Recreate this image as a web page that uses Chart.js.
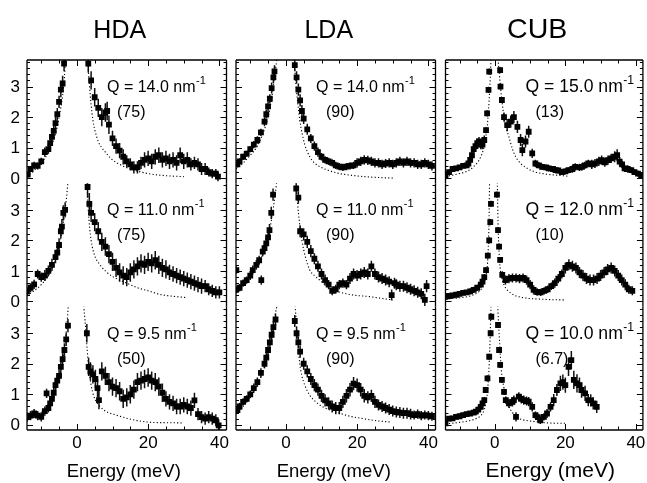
<!DOCTYPE html>
<html>
<head>
<meta charset="utf-8">
<script src="https://cdn.jsdelivr.net/npm/chart.js@4.4.0/dist/chart.umd.min.js"></script>
<style>
  html, body { margin: 0; padding: 0; background: #fff; }
  #fig { position: relative; width: 647px; height: 483px; overflow: hidden; }
  #fig canvas { position: absolute; left: 0; top: 0; }
</style>
</head>
<body>
<div id="fig"></div>
<script>
// ---- data (energy in meV, intensity in arb. units) ----

// HDA, Q = 14.0
const hdaTopE = [-13.8,-13,-12,-11,-10,-9,-8,-7.5,-7,-6.5,-6,-5.5,-5,-4.5,-4,-3.6,
  3.2,4,5,6,7,8,8.5,9,10,11,12,13,14,15,16,17,18,19,20,21,22,23,24,25,26,27,28,29,30,31,32,33,34,35,36,37,38,39,39.6];
const hdaTopI = [0.12,0.3,0.42,0.4,0.55,0.85,0.95,1.15,1.35,1.55,1.8,2.1,2.5,2.9,3.1,3.75,
  3.75,3.2,2.65,2.3,2.0,2.15,2.2,1.75,1.3,1.05,0.9,0.7,0.55,0.45,0.35,0.35,0.5,0.6,0.65,0.55,0.7,0.75,0.6,0.65,0.55,0.6,0.5,0.75,0.55,0.6,0.45,0.5,0.45,0.3,0.3,0.2,0.15,0.15,0.05];
const hdaTopErr = [0.1,0.1,0.12,0.12,0.12,0.15,0.15,0.15,0.15,0.18,0.2,0.2,0.2,0.25,0.25,0.25,
  0.3,0.3,0.3,0.3,0.3,0.3,0.3,0.3,0.25,0.25,0.25,0.25,0.2,0.2,0.2,0.2,0.2,0.25,0.25,0.25,0.25,0.25,0.25,0.25,0.25,0.25,0.25,0.25,0.25,0.25,0.2,0.2,0.2,0.2,0.2,0.15,0.15,0.15,0.15];
const hdaTopFitE = [-14,-12,-10,-8,-6,-5,-4,-3.5,-3.2,0,3,3.5,4,4.5,5,6,7,8,10,12,15,20,25,30];
const hdaTopFitI = [0.05,0.25,0.5,0.85,1.45,2.0,2.7,3.3,3.9,null,3.9,3.1,2.4,1.9,1.6,1.2,1.0,0.85,0.6,0.45,0.3,0.15,0.08,0.05];

// HDA, Q = 11.0
const hdaMidE = [-14,-13,-12,-11,-10,-9,-8,-7,-6,-5.5,-5,-4.5,-4.2,-3.8,-3.3,
  3,3.5,4,5,6,7,8,9,10,11,12,13,14,15,16,17,18,19,20,21,22,23,24,25,26,27,28,29,30,31,32,33,34,35,36,37,38,39,40];
const hdaMidI = [0.32,0.45,0.56,0.9,0.8,0.85,1.0,1.2,1.45,1.6,1.85,2.3,2.45,2.9,3.0,
  3.75,3.2,2.9,2.6,2.3,1.95,1.8,1.55,1.3,1.1,0.95,0.85,0.8,0.95,1.05,1.15,1.25,1.2,1.3,1.25,1.35,1.2,1.1,1.05,0.95,0.9,0.85,0.8,0.75,0.7,0.65,0.6,0.55,0.5,0.5,0.4,0.35,0.3,0.3];
const hdaMidErr = [0.15,0.15,0.15,0.15,0.15,0.18,0.18,0.2,0.2,0.2,0.22,0.22,0.25,0.25,0.25,
  0.35,0.35,0.3,0.3,0.3,0.3,0.3,0.3,0.3,0.3,0.3,0.3,0.3,0.3,0.3,0.3,0.3,0.3,0.3,0.3,0.3,0.3,0.3,0.3,0.25,0.25,0.25,0.25,0.25,0.25,0.25,0.25,0.25,0.25,0.2,0.2,0.2,0.2,0.2];
const hdaMidFitE = [-14,-12,-10,-8,-6,-5,-4,-3,-2.5,0,2.8,3.2,3.6,4,5,6.5,8,10,13.6,17,20,23.4,27,30.5];
const hdaMidFitI = [0.2,0.35,0.55,0.85,1.35,1.8,2.4,3.3,3.9,null,3.9,3.0,2.4,2.0,1.5,1.2,1.0,0.82,0.62,0.45,0.35,0.23,0.17,0.13];

// HDA, Q = 9.5
const hdaLowE = [-14,-13,-12,-11,-10,-9,-8.5,-8,-7.5,-7,-6.5,-6,-5.5,-5,-4.5,-4,-3.5,-3,-2.5,
  2.8,3.3,3.8,4.5,5.2,5.8,6.2,7,8,9,10,11,12,13,14,15,16,17,18,19,20,21,22,23,24,25,26,27,28,29,30,31,32,33,34,35,36,37,38,39,39.8];
const hdaLowI = [0.25,0.3,0.37,0.3,0.26,0.45,1.03,0.55,0.7,0.85,1.05,1.3,1.45,1.6,1.9,2.15,2.45,2.8,3.25,
  3.0,1.9,1.75,1.65,1.5,1.2,0.81,1.75,1.6,1.4,1.25,1.2,1.1,0.85,0.9,1.0,1.15,1.4,1.45,1.5,1.55,1.45,1.4,1.25,1.05,0.85,0.75,0.7,0.6,0.6,0.65,0.6,0.55,0.8,0.35,0.25,0.2,0.25,0.2,0.15,-0.02];
const hdaLowErr = [0.15,0.15,0.15,0.15,0.15,0.15,0.15,0.15,0.15,0.18,0.18,0.18,0.2,0.2,0.2,0.2,0.22,0.22,0.22,
  0.3,0.3,0.3,0.3,0.3,0.3,0.3,0.3,0.3,0.3,0.3,0.3,0.3,0.3,0.3,0.3,0.3,0.3,0.3,0.3,0.3,0.3,0.3,0.3,0.3,0.25,0.25,0.25,0.25,0.25,0.25,0.25,0.25,0.25,0.2,0.2,0.2,0.2,0.2,0.2,0.2];
const hdaLowFitE = [-14,-12,-10,-8,-6,-5,-4,-3,-2.4,0,1.9,2.3,2.8,3.3,4,4.7,5.5,6.5,8,11,16,21,25,30];
const hdaLowFitI = [0.15,0.25,0.4,0.65,1.15,1.55,2.15,3.0,3.9,null,3.9,3.4,2.6,1.9,1.3,0.95,0.75,0.6,0.45,0.32,0.16,0.08,0.07,0.06];

// LDA, Q = 14.0
const ldaTopE = [-13.6,-13,-12,-11,-10,-9,-8,-7,-6,-5.5,-5,-4.5,-4,-3.5,-3.2,
  2.5,3,3.5,4,4.5,5,6,7,8,9,10,11,12,13,14,15,16,17,18,19,20,21,22,23,24,25,26,27,28,29,30,31,32,33,34,35,36,37,38,39,40,41];
const ldaTopI = [0.45,0.55,0.7,0.8,0.95,1.1,1.25,1.5,1.85,2.1,2.35,2.6,2.95,3.3,3.5,
  3.7,3.3,2.9,2.55,2.2,1.95,1.6,1.3,1.05,0.85,0.7,0.6,0.55,0.5,0.42,0.38,0.35,0.38,0.4,0.42,0.5,0.55,0.6,0.58,0.55,0.5,0.5,0.45,0.48,0.5,0.45,0.5,0.55,0.5,0.55,0.5,0.5,0.45,0.45,0.5,0.45,0.4];
const ldaTopErr = [0.1,0.1,0.1,0.1,0.1,0.12,0.12,0.12,0.15,0.15,0.15,0.15,0.18,0.18,0.2,
  0.2,0.2,0.2,0.2,0.2,0.18,0.18,0.15,0.15,0.15,0.12,0.12,0.12,0.12,0.12,0.12,0.12,0.12,0.12,0.12,0.15,0.15,0.15,0.15,0.15,0.15,0.15,0.15,0.15,0.15,0.15,0.15,0.15,0.15,0.15,0.15,0.15,0.15,0.15,0.15,0.15,0.15];
const ldaTopFitE = [-14,-12,-10,-8,-6,-5,-4,-3,-2.5,0,2.3,2.8,3.3,3.9,4.5,5.3,6.7,8,10,12.3,15,18,22,26,30.5];
const ldaTopFitI = [0.3,0.5,0.75,1.05,1.6,2.0,2.6,3.5,3.9,null,3.9,3.1,2.5,1.9,1.5,1.1,0.7,0.5,0.35,0.24,0.15,0.1,0.05,0.02,0.0];

// LDA, Q = 11.0
const ldaMidE = [-14,-13.9,-13,-12,-11,-10,-9.3,-8.3,-7.5,-6.9,-6.5,-6,-5.5,-5,-4.6,-4.1,-3.6,
  2.9,3.5,4,5,6,7,8,9,10,11,12,13,14,15,16,17,18,19,20,21,22,23,24,25,26,27,28,29,29.7,30.5,31,32,33,34,35,36,37,38,39,39.5];
const ldaMidI = [0.38,1.03,0.45,0.6,0.7,0.85,1.03,1.2,1.35,0.7,1.63,1.75,1.9,2.1,2.34,2.9,3.5,
  3.7,3.4,2.3,2.2,1.95,1.65,1.4,1.15,0.9,0.7,0.55,0.35,0.4,0.55,0.6,0.55,0.75,0.9,0.85,0.9,0.95,0.9,1.15,0.9,0.8,0.75,0.7,0.65,0.21,0.6,0.55,0.5,0.5,0.45,0.4,0.35,0.3,0.25,0.05,0.5];
const ldaMidErr = [0.12,0.12,0.12,0.12,0.12,0.15,0.15,0.15,0.15,0.15,0.15,0.18,0.18,0.18,0.2,0.2,0.2,
  0.2,0.2,0.2,0.2,0.2,0.2,0.18,0.18,0.18,0.18,0.15,0.15,0.15,0.15,0.15,0.15,0.18,0.18,0.18,0.18,0.18,0.18,0.18,0.18,0.18,0.18,0.18,0.18,0.18,0.18,0.18,0.18,0.18,0.18,0.18,0.18,0.18,0.18,0.2,0.2];
const ldaMidFitE = [-14,-12,-10,-8,-6,-5,-4,-3,-2.6,0,2.9,3.3,3.8,4.5,5.5,6.7,8,9.5,11,13.2,16,18.9,23.5,27,30];
const ldaMidFitI = [0.3,0.5,0.8,1.15,1.7,2.1,2.7,3.5,3.9,null,3.9,3.2,2.6,2.0,1.45,1.03,0.85,0.7,0.55,0.38,0.28,0.21,0.16,0.1,0.05];

// LDA, Q = 9.5
const ldaLowE = [-13.6,-13,-12,-11,-10,-9,-8,-7,-6,-5.5,-5,-4.5,-4,-3.5,-2.9,
  2.5,3,3.5,4,5,6,7,8,9,10,11,12,13,14,15,16,17,18,19,20,21,22,23,24,25,26,27,28,29,30,31,32,33,34,35,36,37,38,39,40,41];
const ldaLowI = [0.48,0.6,0.75,0.85,1.0,1.2,1.4,1.7,2.0,2.2,2.45,2.7,2.95,3.2,3.45,
  3.4,3.0,2.7,2.4,2.0,1.75,1.5,1.3,1.15,0.95,0.8,0.7,0.6,0.55,0.55,0.75,0.95,1.15,1.35,1.3,1.15,0.95,0.9,0.95,0.75,0.65,0.6,0.55,0.5,0.45,0.42,0.4,0.38,0.38,0.35,0.32,0.35,0.3,0.32,0.3,0.28];
const ldaLowErr = [0.12,0.12,0.12,0.12,0.12,0.15,0.15,0.15,0.15,0.18,0.18,0.18,0.2,0.2,0.2,
  0.2,0.2,0.2,0.2,0.2,0.2,0.2,0.2,0.2,0.2,0.2,0.2,0.2,0.2,0.2,0.2,0.22,0.22,0.22,0.22,0.22,0.22,0.2,0.2,0.2,0.18,0.18,0.18,0.18,0.18,0.18,0.18,0.18,0.18,0.18,0.15,0.15,0.15,0.15,0.15,0.15];
const ldaLowFitE = [-14,-12,-10,-8,-6,-5,-4,-3,-2.5,0,2.6,3.3,3.9,4.5,5.3,6.7,8,9.5,12,15.1,18,20.8,25,29.2];
const ldaLowFitI = [0.35,0.6,0.9,1.3,1.9,2.3,2.9,3.6,3.9,null,3.9,2.8,2.0,1.6,1.3,0.97,0.8,0.65,0.5,0.38,0.28,0.22,0.14,0.09];

// CUB, Q = 15.0
const cubTopE = [-14,-13,-12,-11,-10,-9,-8,-7.5,-7,-6.5,-6,-5.5,-5,-4.5,-4,-3.5,-3,-2.5,-2.2,-1.8,-1.6,
  1.5,1.6,2,2.6,3.5,4.5,5.4,6.4,7.3,7.8,8.7,9.6,10.6,11.5,12.5,13.4,14.5,15.3,16.5,17.2,18,19,20,20.9,22,22.8,24,24.7,25.5,26.5,27.5,28.4,29.5,30.3,31.2,32.1,33,34,34.7,35.4,36.1,36.8,37.7,38.7,39.6,40.6,41.5];
const cubTopI = [0.1,0.2,0.3,0.32,0.35,0.4,0.42,0.48,0.6,0.75,0.95,1.05,1.15,1.2,1.1,1.1,1.25,1.57,2.12,2.89,3.49,
  3.54,3.0,2.56,2.0,1.74,1.85,2.0,1.68,1.25,0.92,1.2,1.52,0.81,0.48,0.42,0.37,0.35,0.32,0.3,0.26,0.25,0.2,0.22,0.26,0.3,0.37,0.35,0.37,0.42,0.48,0.45,0.48,0.55,0.59,0.52,0.59,0.65,0.7,0.75,0.54,0.45,0.32,0.3,0.26,0.2,0.15,0.1];
const cubTopErr = [0.08,0.08,0.08,0.08,0.08,0.08,0.1,0.1,0.1,0.12,0.12,0.12,0.15,0.15,0.15,0.15,0.15,0.1,0.1,0.1,0.1,
  0.1,0.1,0.1,0.15,0.2,0.2,0.2,0.2,0.2,0.2,0.2,0.2,0.15,0.12,0.1,0.1,0.1,0.1,0.1,0.1,0.1,0.1,0.1,0.1,0.12,0.12,0.12,0.12,0.12,0.12,0.15,0.15,0.15,0.15,0.15,0.15,0.15,0.18,0.2,0.15,0.12,0.12,0.12,0.1,0.1,0.1,0.1];
const cubTopFitE = [-14,-12,-10,-8,-7,-6,-5,-4,-3,-2.5,-2,-1.6,-1.3,-1.1,0,0.9,1.2,1.6,2.0,2.6,3.2,4,5,5.9,7,7.8,9.5,11.5,14,17.2,21];
const cubTopFitI = [0.05,0.1,0.15,0.22,0.28,0.38,0.5,0.7,1.05,1.4,1.9,2.6,3.3,3.9,null,3.9,3.5,3.0,2.55,2.0,1.65,1.35,0.95,0.7,0.52,0.43,0.3,0.2,0.14,0.1,0.06];

// CUB, Q = 12.0
const cubMidE = [-14,-13,-12,-11,-10,-9,-8,-7,-6,-5,-4,-3.5,-3,-2.5,-2,-1.6,-1.3,-1.1,
  0.6,0.9,1.2,1.5,2.1,3,4,5,6,7,8,9,10,11,12,13,14,15,16,17,18,19,20,21,22,23,24,25,26,27,28,29,30,31,32,33,34,35,36,37,38,39];
const cubMidI = [0.15,0.18,0.2,0.22,0.25,0.28,0.3,0.33,0.38,0.45,0.55,0.65,0.8,1.03,1.5,2.0,2.6,3.2,
  3.5,2.34,1.8,1.36,0.87,0.7,0.75,0.77,0.77,0.75,0.77,0.7,0.55,0.38,0.31,0.3,0.35,0.4,0.5,0.6,0.75,0.9,1.1,1.2,1.15,1.1,0.95,0.85,0.75,0.7,0.7,0.75,0.85,0.95,1.05,1.1,1.0,0.85,0.7,0.55,0.4,0.35];
const cubMidErr = [0.08,0.08,0.08,0.08,0.08,0.08,0.08,0.1,0.1,0.1,0.1,0.1,0.1,0.1,0.1,0.1,0.1,0.1,
  0.1,0.1,0.1,0.1,0.12,0.15,0.15,0.15,0.15,0.15,0.15,0.15,0.15,0.15,0.12,0.12,0.12,0.12,0.12,0.15,0.15,0.15,0.18,0.18,0.18,0.18,0.18,0.18,0.18,0.18,0.18,0.18,0.18,0.18,0.18,0.18,0.18,0.18,0.18,0.18,0.15,0.15];
const cubMidFitE = [-14,-10,-7,-5,-4,-3,-2.5,-2,-1.7,-1.5,0,0.7,0.9,1.2,1.5,2,2.6,3.5,4.5,5.4,7,9.6,12.4,16,20];
const cubMidFitI = [0.08,0.12,0.18,0.28,0.38,0.6,0.85,1.4,2.4,3.9,null,3.9,2.6,1.6,1.1,0.75,0.54,0.38,0.28,0.21,0.15,0.1,0.08,0.06,0.05];

// CUB, Q = 10.0
const cubLowE = [-14,-13,-12,-11,-10,-9,-8,-7,-6,-5.4,-4.7,-4,-3.5,-3,-2.6,-2.1,-1.6,-1.2,-1,
  0.9,1.2,1.5,2,2.6,3.1,4,5,5.4,6,6.8,7.5,8.2,9,9.6,10.6,11.5,12.2,12.9,13.9,14.8,15.8,16.7,17.6,18.6,19.3,20,20.9,21.7,22.4,23.3,24,24.6,25.6,26.5,27.2,27.9,28.9];
const cubLowI = [0.05,0.2,0.21,0.26,0.28,0.32,0.35,0.37,0.4,0.43,0.5,0.59,0.7,0.81,1.14,1.52,2.23,3.0,3.54,
  3.27,2.45,1.96,1.47,1.08,0.81,0.7,0.75,0.81,0.26,0.92,0.85,0.81,0.78,0.76,0.59,0.32,0.25,0.15,0.26,0.37,0.59,0.81,1.14,1.36,1.4,1.3,1.9,2.12,1.47,1.36,1.3,1.14,1.03,0.81,0.8,0.7,0.59];
const cubLowErr = [0.08,0.08,0.08,0.08,0.08,0.08,0.08,0.08,0.08,0.1,0.1,0.1,0.1,0.1,0.1,0.1,0.1,0.1,0.1,
  0.1,0.1,0.1,0.1,0.1,0.12,0.15,0.15,0.15,0.15,0.15,0.15,0.15,0.15,0.15,0.15,0.12,0.12,0.12,0.12,0.15,0.15,0.2,0.2,0.25,0.25,0.25,0.3,0.3,0.3,0.3,0.25,0.25,0.25,0.2,0.2,0.2,0.2];
const cubLowFitE = [-14,-10,-7,-5,-4,-3,-2.5,-2,-1.6,-1.3,-1.1,0,0.8,1.2,1.6,2,2.6,3.2,4,5,5.9,7.5,9.6,12,15.3,20];
const cubLowFitI = [0.03,0.08,0.14,0.22,0.3,0.5,0.75,1.2,2.0,3.0,3.9,null,3.9,3.0,2.2,1.6,1.2,0.85,0.59,0.4,0.26,0.18,0.13,0.1,0.06,0.05];

// labels
const sampleNames = ['HDA', 'LDA', 'CUB'];
const qLabels = [['14.0', '11.0', '9.5'], ['14.0', '11.0', '9.5'], ['15.0', '12.0', '10.0']];
const scaleLabels = [['(75)', '(75)', '(50)'], ['(90)', '(90)', '(90)'], ['(13)', '(10)', '(6.7)']];
const yTickValues = [0, 1, 2, 3];
const xTickValues = [0, 20, 40];

// ---- layout ----
const W = 647, H = 483;
const COL_LEFT = [27, 236, 445.5];
const COL_W = 199.5;
const BOX_TOP = 60, BOX_BOTTOM = 430;
const ROW_H = (BOX_BOTTOM - BOX_TOP) / 3;
const X_MIN = -14, X_MAX = 42;
const Y_MIN = -0.17, Y_MAX = 3.87;
const FONT = '"Liberation Sans", Arial, Helvetica, sans-serif';
// the CUB column of the original figure is typeset a bit larger
const Q_SIZE = [16, 16, 17.6];
const TITLE_SIZE = [25, 25, 28.5];
const AXIS_TITLE_SIZE = [18.5, 18.5, 21];
const AXIS_TITLE_SHIFT = [-3, -2, 6];

const panels = [
  [hdaTopE, hdaTopI, hdaTopErr, hdaTopFitE, hdaTopFitI],
  [hdaMidE, hdaMidI, hdaMidErr, hdaMidFitE, hdaMidFitI],
  [hdaLowE, hdaLowI, hdaLowErr, hdaLowFitE, hdaLowFitI],
  [ldaTopE, ldaTopI, ldaTopErr, ldaTopFitE, ldaTopFitI],
  [ldaMidE, ldaMidI, ldaMidErr, ldaMidFitE, ldaMidFitI],
  [ldaLowE, ldaLowI, ldaLowErr, ldaLowFitE, ldaLowFitI],
  [cubTopE, cubTopI, cubTopErr, cubTopFitE, cubTopFitI],
  [cubMidE, cubMidI, cubMidErr, cubMidFitE, cubMidFitI],
  [cubLowE, cubLowI, cubLowErr, cubLowFitE, cubLowFitI]
];

// vertical error bars, drawn under the markers
const errorBarPlugin = {
  id: 'errorBars',
  beforeDatasetsDraw(chart) {
    const { ctx, chartArea: a, scales: { x, y } } = chart;
    const ds = chart.data.datasets[1];
    ctx.save();
    ctx.beginPath();
    ctx.rect(a.left, a.top, a.right - a.left, a.bottom - a.top);
    ctx.clip();
    ctx.strokeStyle = '#111';
    ctx.lineWidth = 1.5;
    ctx.beginPath();
    ds.data.forEach(function (p) {
      const px = x.getPixelForValue(p.x);
      ctx.moveTo(px, y.getPixelForValue(p.y - p.err));
      ctx.lineTo(px, y.getPixelForValue(p.y + p.err));
    });
    ctx.stroke();
    ctx.restore();
  }
};

// frame, inward ticks and all the texts of one panel
function makeDecoPlugin(col, row) {
  return {
    id: 'deco',
    afterDraw(chart) {
      const { ctx, chartArea: a, scales: { x, y } } = chart;
      ctx.save();
      ctx.strokeStyle = '#000';
      ctx.lineWidth = 1.3;
      ctx.beginPath();
      ctx.moveTo(a.left, a.top); ctx.lineTo(a.left, a.bottom);
      ctx.moveTo(a.right, a.top); ctx.lineTo(a.right, a.bottom);
      if (row === 0) { ctx.moveTo(a.left, a.top); ctx.lineTo(a.right, a.top); }
      if (row === 2) { ctx.moveTo(a.left, a.bottom); ctx.lineTo(a.right, a.bottom); }
      ctx.stroke();

      ctx.lineWidth = 1;
      ctx.beginPath();
      for (let k = 0; k <= 19; k++) {
        const v = k * 0.2;
        if (v > Y_MAX) break;
        const py = Math.round(y.getPixelForValue(v)) + 0.5;
        const len = k % 5 === 0 ? 6 : 3;
        ctx.moveTo(a.left, py); ctx.lineTo(a.left + len, py);
        ctx.moveTo(a.right, py); ctx.lineTo(a.right - len, py);
      }
      for (let v = -10; v <= 40; v += 5) {
        const px = Math.round(x.getPixelForValue(v)) + 0.5;
        const len = v % 20 === 0 ? 6 : 3.5;
        if (row === 0) { ctx.moveTo(px, a.top); ctx.lineTo(px, a.top + len); }
        if (row === 2) { ctx.moveTo(px, a.bottom); ctx.lineTo(px, a.bottom - len); }
      }
      ctx.stroke();

      ctx.fillStyle = '#000';
      if (col === 0) {
        ctx.font = '17px ' + FONT;
        ctx.textAlign = 'right';
        ctx.textBaseline = 'middle';
        yTickValues.forEach(function (v) {
          ctx.fillText(String(v), a.left - 7, y.getPixelForValue(v) + 1);
        });
      }
      if (row === 2) {
        ctx.font = '17px ' + FONT;
        ctx.textAlign = 'center';
        ctx.textBaseline = 'alphabetic';
        xTickValues.forEach(function (v) {
          ctx.fillText(String(v), x.getPixelForValue(v), a.bottom + 18);
        });
        ctx.font = AXIS_TITLE_SIZE[col] + 'px ' + FONT;
        ctx.fillText('Energy (meV)', (a.left + a.right) / 2 + AXIS_TITLE_SHIFT[col], 477);
      }
      if (row === 0) {
        ctx.font = TITLE_SIZE[col] + 'px ' + FONT;
        ctx.textAlign = 'center';
        ctx.textBaseline = 'alphabetic';
        ctx.fillText(sampleNames[col], (a.left + a.right) / 2 - 7, 38);
      }
      // Q label with superscript
      const qs = Q_SIZE[col];
      ctx.textAlign = 'left';
      ctx.textBaseline = 'alphabetic';
      ctx.font = qs + 'px ' + FONT;
      const qText = 'Q = ' + qLabels[col][row] + ' nm';
      const qx = a.left + 80, qy = a.top + 32;
      ctx.fillText(qText, qx, qy);
      const qw = ctx.measureText(qText).width;
      ctx.font = (qs * 0.69) + 'px ' + FONT;
      ctx.fillText('-1', qx + qw + 0.5, qy - 8);
      ctx.font = '16px ' + FONT;
      ctx.fillText(scaleLabels[col][row], a.left + 90, a.top + 57);
      ctx.restore();
    }
  };
}

const fig = document.getElementById('fig');

panels.forEach(function (p, idx) {
  const col = Math.floor(idx / 3), row = idx % 3;
  const left = COL_LEFT[col];
  const top = BOX_TOP + row * ROW_H;
  const canvas = document.createElement('canvas');
  canvas.width = W;
  canvas.height = H;
  fig.appendChild(canvas);

  const points = p[0].map(function (e, i) { return { x: e, y: p[1][i], err: p[2][i] }; });
  const fit = p[3].map(function (e, i) { return { x: e, y: p[4][i] }; });

  new Chart(canvas, {
    type: 'scatter',
    data: {
      datasets: [
        {
          data: fit,
          showLine: true,
          borderColor: '#000',
          borderWidth: 1.1,
          borderDash: [1.2, 2.2],
          pointRadius: 0,
          cubicInterpolationMode: 'monotone',
          spanGaps: false,
          clip: 0
        },
        {
          data: points,
          showLine: false,
          pointStyle: 'rect',
          pointRadius: 4.1,
          backgroundColor: '#000',
          borderWidth: 0,
          clip: 0
        }
      ]
    },
    options: {
      responsive: false,
      animation: false,
      devicePixelRatio: 1,
      events: [],
      layout: {
        padding: { left: left, top: top, right: W - left - COL_W, bottom: H - top - ROW_H }
      },
      scales: {
        x: { type: 'linear', min: X_MIN, max: X_MAX, display: false },
        y: { type: 'linear', min: Y_MIN, max: Y_MAX, display: false }
      },
      plugins: { legend: { display: false }, tooltip: { enabled: false }, title: { display: false } }
    },
    plugins: [errorBarPlugin, makeDecoPlugin(col, row)]
  });
});
</script>
</body>
</html>
